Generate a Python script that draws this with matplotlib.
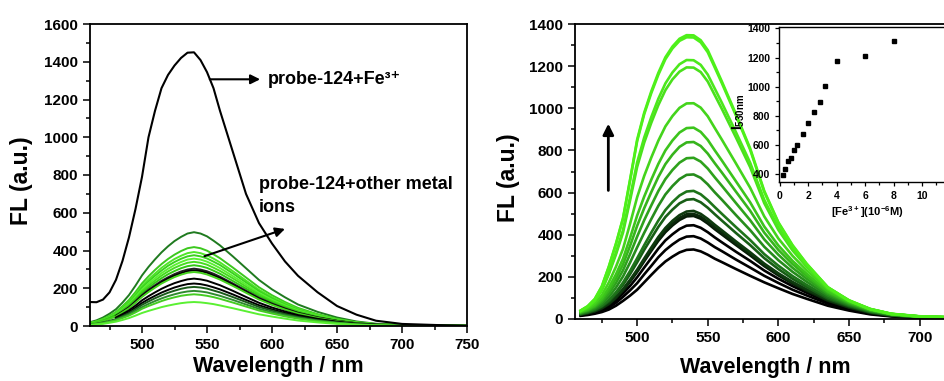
import numpy as np
import matplotlib.pyplot as plt
from matplotlib.ticker import MultipleLocator

plt.rcParams['font.family'] = ['Liberation Sans', 'DejaVu Sans']
plt.rcParams['font.weight'] = 'bold'
plt.rcParams['axes.labelweight'] = 'bold'
plt.rcParams['mathtext.default'] = 'regular'

nan = np.nan

# wavelength grid (nm) used for all spectra
wavelength = [460, 465, 470, 475, 480, 485, 490, 495, 500, 505, 510, 515, 520, 525, 530,
              535, 540, 545, 550, 555, 560, 570, 580, 590, 600, 610, 620, 635, 650, 665,
              680, 700, 750]

# left panel: probe-124 + Fe3+
fe_spectrum = [127, 126, 140, 178, 245, 345, 470, 620, 790, 1000, 1140, 1260, 1330, 1380, 1420,
               1448, 1450, 1409, 1345, 1260, 1140, 920, 700, 545, 437, 342, 266, 179, 106, 60,
               28, 11, 0]

# left panel: probe-124 + other metal ions
ion_spectra = [
    [20, 30, 45, 65, 89, 124, 164, 214, 268, 313, 353, 390, 422, 450, 472, 490, 497, 490, 475, 452, 427, 368, 306, 244, 194, 152, 114, 75, 45, 24, 12, 6, 1],
    [17, 25, 38, 54, 75, 105, 138, 180, 226, 263, 297, 328, 355, 378, 397, 412, 418, 412, 399, 380, 359, 309, 257, 205, 163, 127, 96, 63, 38, 20, 10, 5, 1],
    [16, 24, 35, 51, 71, 98, 129, 169, 212, 247, 278, 308, 333, 355, 372, 386, 392, 386, 374, 357, 337, 290, 241, 192, 153, 120, 90, 59, 35, 19, 10, 5, 1],
    [15, 23, 34, 49, 68, 94, 124, 161, 203, 236, 266, 294, 319, 339, 356, 369, 375, 369, 358, 341, 323, 278, 231, 184, 146, 114, 86, 56, 34, 18, 9, 5, 1],
    [14, 21, 32, 46, 64, 89, 118, 154, 193, 225, 253, 280, 303, 323, 339, 352, 357, 352, 341, 325, 307, 264, 220, 175, 139, 109, 82, 54, 32, 17, 9, 4, 1],
    [14, 20, 31, 44, 61, 85, 112, 146, 184, 214, 241, 267, 289, 308, 323, 335, 340, 335, 325, 309, 292, 252, 209, 167, 133, 104, 78, 51, 31, 16, 9, 4, 1],
    [13, 19, 29, 42, 58, 81, 106, 138, 174, 203, 229, 253, 274, 291, 306, 317, 322, 317, 308, 293, 277, 238, 198, 158, 126, 98, 74, 48, 29, 15, 8, 4, 1],
    [nan, nan, nan, nan, 55, 76, 100, 131, 164, 192, 216, 239, 258, 275, 289, 299, 304, 299, 290, 277, 261, 225, 187, 149, 119, 93, 70, 46, 27, 15, 8, 4, 1],
    [nan, nan, nan, nan, 53, 74, 97, 127, 159, 186, 209, 232, 251, 267, 280, 291, 295, 291, 282, 268, 254, 218, 181, 145, 115, 90, 68, 44, 27, 14, 7, 4, 1],
    [11, 17, 26, 37, 51, 72, 94, 123, 154, 180, 203, 225, 243, 259, 272, 282, 286, 282, 273, 260, 246, 212, 176, 140, 112, 87, 66, 43, 26, 14, 7, 3, 1],
    [nan, nan, nan, nan, 45, 63, 83, 108, 136, 158, 178, 197, 213, 227, 238, 247, 251, 247, 240, 228, 216, 186, 154, 123, 98, 77, 58, 38, 23, 12, 6, 3, 1],
    [nan, nan, nan, nan, 41, 56, 74, 97, 122, 142, 160, 177, 191, 204, 214, 222, 225, 222, 215, 205, 194, 167, 138, 110, 88, 69, 52, 34, 20, 11, 6, 3, 1],
    [8, 12, 19, 27, 37, 52, 68, 89, 112, 130, 147, 162, 176, 187, 197, 204, 207, 204, 198, 188, 178, 153, 127, 101, 81, 63, 48, 31, 19, 10, 5, 2, 1],
    [7, 11, 17, 24, 33, 47, 61, 80, 100, 117, 132, 146, 158, 168, 177, 183, 186, 183, 178, 169, 160, 138, 114, 91, 73, 57, 43, 28, 17, 9, 5, 2, 1],
    [7, 10, 15, 22, 30, 42, 55, 72, 91, 106, 119, 132, 143, 152, 160, 165, 168, 165, 160, 153, 144, 124, 103, 82, 66, 51, 39, 25, 15, 8, 4, 2, 1],
    [5, 8, 11, 17, 23, 32, 42, 55, 69, 80, 90, 100, 108, 115, 121, 125, 127, 125, 121, 116, 109, 94, 78, 62, 50, 39, 29, 19, 11, 6, 3, 2, 0],
]
ion_colors = ['#1f7a1f', '#3cc81e', '#50e628', '#3ad21e', '#5af032', '#46dc1e',
              '#32c814', '#222222', '#000000', '#46d21e', '#000000', '#000000',
              '#1a5a1a', '#2e8b2e', '#44cc22', '#5af032']

# right panel: titration with Fe3+ (lowest to highest)
titration_spectra = [
    [15, 19, 25, 33, 45, 63, 86, 111, 139, 174, 209, 243, 273, 296, 316, 328, 330, 321, 305, 286, 270, 237, 205, 174, 146, 119, 96, 63, 40, 22, 12, 6, 1],
    [17, 23, 29, 40, 54, 77, 105, 136, 170, 212, 252, 293, 327, 354, 377, 391, 393, 382, 363, 341, 322, 282, 244, 205, 171, 139, 112, 73, 46, 25, 14, 7, 1],
    [19, 25, 33, 45, 63, 88, 121, 157, 198, 244, 289, 334, 373, 402, 427, 443, 445, 433, 412, 387, 364, 319, 276, 230, 191, 156, 125, 81, 51, 28, 15, 8, 1],
    [21, 27, 36, 50, 70, 99, 135, 177, 223, 274, 323, 371, 412, 444, 470, 487, 489, 476, 453, 426, 401, 351, 302, 251, 207, 168, 134, 87, 54, 29, 16, 8, 1],
    [21, 28, 37, 51, 72, 101, 138, 181, 228, 279, 329, 379, 421, 453, 480, 497, 499, 486, 462, 435, 409, 358, 308, 256, 212, 172, 137, 88, 55, 30, 16, 8, 1],
    [22, 29, 38, 53, 74, 104, 142, 186, 234, 287, 339, 389, 432, 466, 493, 510, 513, 499, 475, 447, 421, 368, 317, 263, 217, 176, 141, 91, 57, 31, 17, 8, 1],
    [23, 31, 42, 59, 84, 119, 162, 213, 269, 328, 383, 437, 484, 519, 549, 566, 569, 554, 528, 497, 467, 408, 351, 289, 237, 191, 152, 97, 61, 33, 18, 9, 2],
    [25, 33, 45, 63, 90, 127, 173, 228, 288, 350, 410, 467, 517, 555, 586, 605, 608, 592, 564, 531, 499, 436, 375, 308, 253, 204, 162, 104, 65, 35, 19, 10, 2],
    [27, 37, 50, 72, 105, 149, 202, 268, 340, 409, 474, 537, 591, 631, 664, 684, 686, 670, 639, 601, 566, 493, 422, 343, 279, 224, 177, 112, 69, 38, 20, 10, 2],
    [30, 40, 56, 82, 120, 171, 231, 308, 391, 469, 539, 607, 664, 707, 742, 763, 765, 747, 714, 672, 632, 550, 469, 378, 305, 243, 191, 120, 74, 40, 22, 11, 2],
    [32, 43, 61, 91, 135, 192, 259, 347, 442, 526, 602, 674, 735, 780, 817, 838, 840, 821, 785, 739, 695, 604, 514, 410, 328, 261, 204, 127, 78, 42, 23, 11, 2],
    [33, 46, 66, 99, 149, 212, 286, 385, 491, 581, 661, 736, 800, 847, 885, 906, 908, 888, 850, 800, 752, 653, 554, 439, 349, 276, 215, 132, 81, 44, 23, 12, 2],
    [36, 51, 74, 113, 174, 248, 333, 452, 578, 679, 766, 846, 914, 963, 1002, 1023, 1024, 1003, 962, 906, 851, 738, 623, 487, 382, 300, 231, 141, 85, 46, 24, 12, 2],
    [38, 56, 85, 135, 214, 306, 410, 563, 722, 837, 931, 1015, 1086, 1137, 1174, 1194, 1193, 1172, 1127, 1062, 997, 861, 721, 550, 423, 326, 248, 146, 86, 47, 24, 12, 3],
    [39, 58, 87, 139, 220, 315, 422, 579, 743, 861, 958, 1045, 1118, 1170, 1209, 1229, 1228, 1206, 1160, 1093, 1026, 886, 742, 566, 435, 336, 255, 150, 89, 48, 25, 13, 3],
    [40, 60, 94, 154, 248, 355, 476, 657, 844, 972, 1072, 1159, 1233, 1284, 1320, 1337, 1336, 1313, 1266, 1193, 1119, 965, 804, 603, 456, 348, 261, 150, 87, 47, 24, 12, 3],
    [40, 61, 95, 155, 250, 358, 479, 662, 851, 979, 1080, 1168, 1242, 1293, 1330, 1347, 1346, 1323, 1276, 1202, 1127, 972, 810, 608, 459, 351, 263, 151, 88, 47, 24, 12, 3],
]
titration_colors = ['#000000', '#000000', '#000000', '#061a06', '#0a280a', '#0e3a0e',
                    '#185e16', '#1e741a', '#268c1c', '#2ea21c', '#36b41c', '#3cc41c',
                    '#44d41c', '#4ae01c', '#4ce81c', '#4ef01a', '#4ef01a']

# inset: intensity at 530 nm vs [Fe3+]
fe_conc = [0.2, 0.4, 0.6, 0.8, 1.0, 1.2, 1.6, 2.0, 2.4, 2.8, 3.2, 4.0, 6.0, 8.0]
i530 = [395, 437, 491, 509, 564, 597, 674, 750, 825, 892, 1006, 1178, 1213, 1314]


def style_axes(ax, ymax, fs):
    ax.set_ylim(0, ymax)
    ax.xaxis.set_major_locator(MultipleLocator(50))
    ax.xaxis.set_minor_locator(MultipleLocator(25))
    ax.yaxis.set_major_locator(MultipleLocator(200))
    ax.yaxis.set_minor_locator(MultipleLocator(100))
    ax.tick_params(which='both', direction='out', top=False, right=False, width=1.1)
    ax.tick_params(which='major', length=5, labelsize=fs)
    ax.tick_params(which='minor', length=3)
    for s in ax.spines.values():
        s.set_linewidth(1.3)


fig = plt.figure(figsize=(9.44, 3.81), dpi=100)

# ---- left panel ----
ax1 = fig.add_axes([90 / 944, 55 / 381, 377 / 944, 302 / 381])
for spec, c in zip(ion_spectra, ion_colors):
    ax1.plot(wavelength, spec, color=c, lw=1.4)
ax1.plot(wavelength, fe_spectrum, color='k', lw=1.5)
ax1.set_xlim(460, 750)
style_axes(ax1, 1600, 11)
ax1.set_xlabel('Wavelength / nm', fontsize=15.5)
ax1.set_ylabel('FL (a.u.)', fontsize=16.5)
ax1.xaxis.set_label_coords(0.5, -0.1)
ax1.yaxis.set_label_coords(-0.15, 0.48)

ax1.annotate('', xy=(593, 1307), xytext=(550, 1307),
             arrowprops=dict(arrowstyle='-|>', color='k', lw=1.5, mutation_scale=14))
ax1.text(597, 1307, 'probe-124+Fe³⁺', va='center', ha='left', fontsize=13)
ax1.text(590, 750, 'probe-124+other metal', va='center', ha='left', fontsize=13)
ax1.text(590, 628, 'ions', va='center', ha='left', fontsize=13)
ax1.annotate('', xy=(612, 519), xytext=(546, 365),
             arrowprops=dict(arrowstyle='-|>', color='k', lw=1.5, mutation_scale=14))

# ---- right panel ----
ax2 = fig.add_axes([575 / 944, 62 / 381, 414.5 / 944, 295 / 381])
for spec, c in zip(titration_spectra, titration_colors):
    ax2.plot(wavelength, spec, color=c, lw=1.9)
ax2.set_xlim(456, 749.5)
style_axes(ax2, 1400, 11)
ax2.set_xlabel('Wavelength / nm', fontsize=15.5)
ax2.set_ylabel('FL (a.u.)', fontsize=16.5)
ax2.xaxis.set_label_coords(0.458, -0.129)
ax2.yaxis.set_label_coords(-0.133, 0.48)
ax2.annotate('', xy=(479.6, 940), xytext=(479.6, 597),
             arrowprops=dict(arrowstyle='-|>', color='k', lw=2, mutation_scale=16))

# ---- inset ----
ax3 = fig.add_axes([779 / 944, 199 / 381, 186 / 944, 155 / 381])
ax3.patch.set_alpha(0)
ax3.plot(fe_conc, i530, 's', color='k', ms=2.6)
ax3.set_xlim(-0.05, 13)
ax3.set_ylim(345, 1410)
ax3.xaxis.set_major_locator(MultipleLocator(2))
ax3.xaxis.set_minor_locator(MultipleLocator(1))
ax3.yaxis.set_major_locator(MultipleLocator(200))
ax3.yaxis.set_minor_locator(MultipleLocator(100))
ax3.tick_params(which='both', direction='out', top=False, right=False, width=0.9)
ax3.tick_params(which='major', length=3, labelsize=7.5)
ax3.tick_params(which='minor', length=2)
for s in ax3.spines.values():
    s.set_linewidth(1.0)
ax3.set_xlabel('[Fe$^{3+}$](10$^{-6}$M)', fontsize=8)
ax3.set_ylabel('I$_{530nm}$', fontsize=10)
ax3.xaxis.set_label_coords(0.474, -0.14)
ax3.yaxis.set_label_coords(-0.17, 0.45)

fig.savefig('out.png', dpi=100)
